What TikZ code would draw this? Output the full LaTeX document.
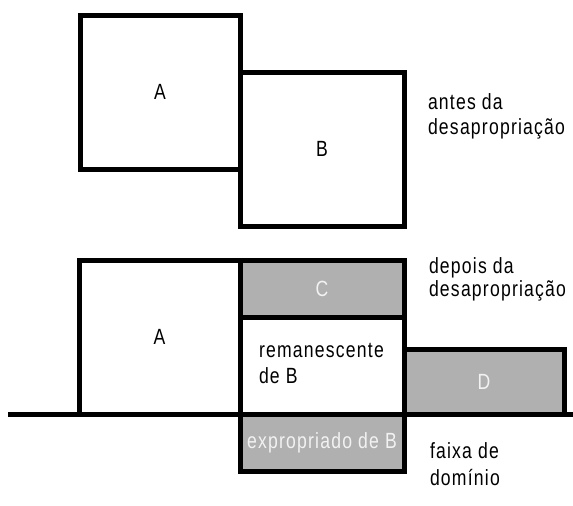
\documentclass[tikz,border=0pt]{standalone}
\usepackage{fontspec}
\setmainfont[FakeStretch=0.8, LetterSpace=5.5]{Liberation Sans}
\definecolor{boxgrey}{HTML}{B0B0B0}
\definecolor{lighttext}{HTML}{F2F2F2}
\tikzset{
  lot/.style={draw=black, line width=5pt, rectangle, inner sep=0pt, outer sep=0pt,
    font=\fontsize{22}{24}\selectfont, text=black},
  greylot/.style={lot, fill=boxgrey, text=lighttext},
  caption/.style={inner sep=0pt, outer sep=0pt, anchor=base west,
    font=\fontsize{22}{24}\selectfont},
  ground/.style={line width=5pt}
}
\begin{document}
\begin{tikzpicture}[x=1pt, y=-1pt]
\useasboundingbox (0,0) rectangle (573,506);
% before
\node[lot, minimum width=160pt, minimum height=154pt] (A1) at (160,92) {A};
\node[lot, minimum width=164pt, minimum height=154pt] (B1) at (322,149) {B};
\node[caption] (t1) at (428,109) {antes da};
\node[caption] (t2) at (428,134) {desapropriação};
% after
\coordinate (gl) at (8,414);
\coordinate (gr) at (573,414);
\node[lot, minimum width=161pt, minimum height=154pt] (A2) at (159.5,337) {A};
\node[greylot, minimum width=164pt, minimum height=57pt] (C) at (322,288.5) {C};
\node[lot, minimum width=164pt, minimum height=97pt] (R) at (322,365.5) {};
\node[greylot, minimum width=160pt, minimum height=65pt] (D) at (484,381.5) {D};
\node[greylot, minimum width=164pt, minimum height=57pt] (E) at (322,442.5) {expropriado de B};
\draw[ground] (gl) -- (gr);
\node[caption] (r1) at (259,357) {remanescente};
\node[caption] (r2) at (259,383) {de B};
\node[caption] (t3) at (429,273) {depois da};
\node[caption] (t4) at (429,296) {desapropriação};
\node[caption] (t5) at (430,458) {faixa de};
\node[caption] (t6) at (430,485) {domínio};
\end{tikzpicture}
\end{document}
